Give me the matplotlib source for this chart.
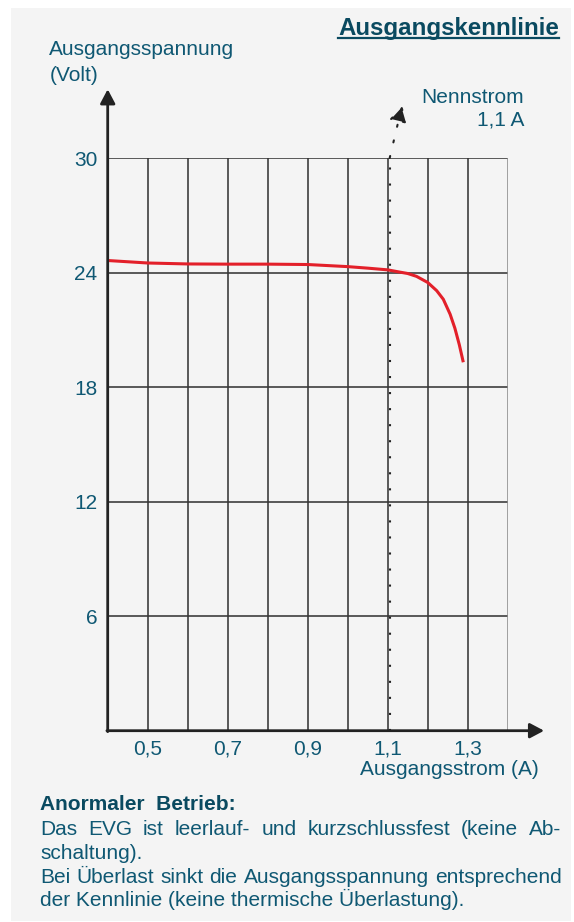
import matplotlib
matplotlib.use('Agg')
import matplotlib.pyplot as plt
import matplotlib.transforms as mtransforms
from matplotlib.patches import Rectangle
from matplotlib.lines import Line2D

plt.rcParams['font.family'] = ['Liberation Sans', 'DejaVu Sans']

# ---------------- data ----------------
current = [0.40, 0.50, 0.60, 0.70, 0.80, 0.90, 1.00, 1.05, 1.10, 1.131,
           1.15, 1.172, 1.20, 1.2225, 1.239, 1.256, 1.268, 1.279, 1.289]
voltage = [24.63, 24.50, 24.45, 24.44, 24.44, 24.42, 24.31, 24.23, 24.14, 24.02,
           23.95, 23.80, 23.48, 23.05, 22.60, 21.82, 21.08, 20.22, 19.30]

x_ticks = [0.5, 0.7, 0.9, 1.1, 1.3]
x_tick_labels = ['0,5', '0,7', '0,9', '1,1', '1,3']
y_ticks = [6, 12, 18, 24, 30]
y_tick_labels = ['6', '12', '18', '24', '30']
x_grid = [0.5, 0.6, 0.7, 0.8, 0.9, 1.0, 1.1, 1.2, 1.3]
x_border = 1.4
x_range = (0.4, 1.4)
y_range = (0, 30)
rated_current = 1.1

title = 'Ausgangskennlinie'
y_label = ['Ausgangsspannung', '(Volt)']
x_label = 'Ausgangsstrom (A)'
rated_label = ['Nennstrom', '1,1 A']
note_heading = 'Anormaler  Betrieb:'
note_lines = [
    ('Das EVG ist leerlauf- und kurzschlussfest (keine Ab-', True),
    ('schaltung).', False),
    ('Bei Überlast sinkt die Ausgangsspannung entsprechend', True),
    ('der Kennlinie (keine thermische Überlastung).', False),
]

# ---------------- style ----------------
W, H = 574, 922
TEAL = '#0f5873'
TEAL_DARK = '#0a4a60'
GRID = '#363636'
AXIS = '#222222'
RED = '#e3202a'
PANEL = '#f4f4f4'

fig = plt.figure(figsize=(W / 100, H / 100), dpi=100)
fig.patch.set_facecolor('white')


def fx(px):
    return px / W


def fy(py):
    return 1 - py / H


fig.add_artist(Rectangle((fx(11), fy(921)), (571 - 11) / W, (921 - 8) / H,
                         transform=fig.transFigure, facecolor=PANEL,
                         edgecolor='none', zorder=-10))

L, R, T, B = 107.7, 507.7, 158.0, 730.7
ax = fig.add_axes([fx(L), fy(B), (R - L) / W, (B - T) / H])
ax.set_xlim(*x_range)
ax.set_ylim(*y_range)
ax.patch.set_visible(False)
for s in ax.spines.values():
    s.set_visible(False)
ax.set_xticks(x_ticks, x_tick_labels)
ax.set_yticks(y_ticks, y_tick_labels)
ax.tick_params(axis='both', length=0, labelsize=15, labelcolor=TEAL)
ax.tick_params(axis='x', pad=6.5)
ax.tick_params(axis='y', pad=7.5)

# grid
for yv in y_ticks:
    ax.axhline(yv, color=GRID, lw=1.15, zorder=1)
for xv in x_grid:
    ax.axvline(xv, color=GRID, lw=1.15, zorder=1)
ax.axvline(x_border, color='#8c8c8c', lw=1.15, zorder=1)

# axes with arrows
arrow_style = '-|>,head_length=0.85,head_width=0.45'
ax.annotate('', xy=(1.491, 0), xytext=(x_range[0] - 0.002, 0),
            arrowprops=dict(arrowstyle=arrow_style, mutation_scale=10, lw=2.0,
                            color=AXIS, shrinkA=0, shrinkB=0),
            annotation_clip=False, zorder=5)
ax.annotate('', xy=(x_range[0], 33.6), xytext=(x_range[0], -0.05),
            arrowprops=dict(arrowstyle=arrow_style, mutation_scale=10, lw=2.0,
                            color=AXIS, shrinkA=0, shrinkB=0),
            annotation_clip=False, zorder=5)

# rated current dotted marker
dot_tr = mtransforms.offset_copy(ax.transData, fig=fig, x=2, y=0, units='dots')
ax.plot([rated_current, rated_current], [0, 30], color=AXIS, lw=1.5,
        ls=(0, (1, 6.7)), transform=dot_tr, zorder=3)
ax.annotate('', xy=(1.136, 32.75), xytext=(rated_current + 0.005, 30),
            arrowprops=dict(arrowstyle='-|>,head_length=0.75,head_width=0.42',
                            mutation_scale=13, lw=1.5, ls=(0, (1, 6.7)),
                            color=AXIS, shrinkA=0, shrinkB=0),
            annotation_clip=False, zorder=3)

# characteristic curve
ax.plot(current, voltage, color=RED, lw=2.2, zorder=4, solid_capstyle='butt',
        solid_joinstyle='round', clip_on=False)

# ---------------- texts ----------------
renderer = fig.canvas.get_renderer()

t_title = fig.text(fx(559.3), fy(35), title, ha='right', va='baseline',
                   fontsize=17.4, fontweight='bold', color=TEAL_DARK)
bb = t_title.get_window_extent(renderer)
fig.add_artist(Line2D([bb.x0 / W, bb.x1 / W], [fy(38.5), fy(38.5)],
                      transform=fig.transFigure, color=TEAL_DARK, lw=1.6))

fig.text(fx(49.3), fy(55), y_label[0], va='baseline', fontsize=15, color=TEAL)
fig.text(fx(49.3), fy(80.7), y_label[1], va='baseline', fontsize=15, color=TEAL)

fig.text(fx(524), fy(102.7), rated_label[0], ha='right', va='baseline',
         fontsize=15, color=TEAL)
fig.text(fx(524), fy(125.7), rated_label[1], ha='right', va='baseline',
         fontsize=15, color=TEAL)

fig.text(fx(539), fy(775), x_label, ha='right', va='baseline', fontsize=15,
         color=TEAL)

fig.text(fx(40), fy(810), note_heading, va='baseline', fontsize=15,
         fontweight='bold', color=TEAL_DARK)

NX0, NX1 = 40, 561.5
base = [835, 859, 882.5, 906]


def draw_line(text, x0, x1, ybase, justify, **kw):
    if not justify:
        fig.text(fx(x0), fy(ybase), text, va='baseline', **kw)
        return
    words = text.split()
    items = []
    for w in words:
        t = fig.text(0, 0, w, va='baseline', **kw)
        items.append((t, t.get_window_extent(renderer).width))
    gap = (x1 - x0 - sum(wd for _, wd in items)) / (len(items) - 1)
    gap = max(gap, 2.0)
    x = x0
    for t, wd in items:
        t.set_position((fx(x), fy(ybase)))
        x += wd + gap


for (txt, just), yb in zip(note_lines, base):
    draw_line(txt, NX0, NX1, yb, just, fontsize=15, color=TEAL)

fig.savefig('out.png', dpi=100)
